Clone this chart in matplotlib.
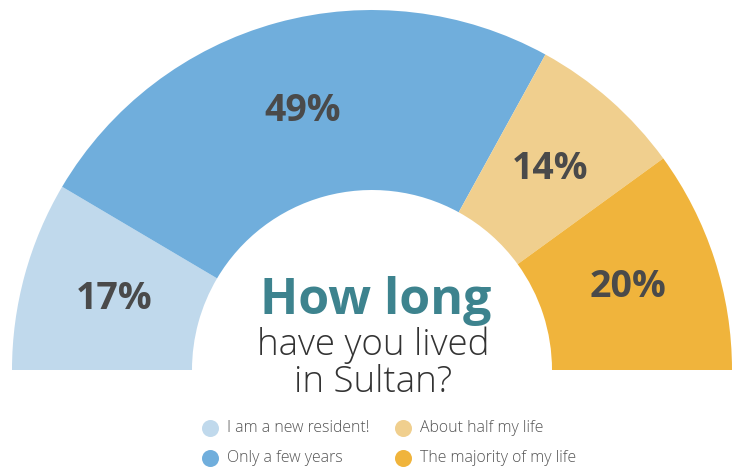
import matplotlib
matplotlib.use("Agg")
import matplotlib.pyplot as plt
import numpy as np

categories = ["I am a new resident!", "Only a few years", "About half my life", "The majority of my life"]
values = [17, 49, 14, 20]
colors = ["#c0d9ec", "#70aedc", "#f0cf8e", "#f0b43c"]
pct_labels = ["17%", "49%", "14%", "20%"]

W, H = 732, 470
fig = plt.figure(figsize=(W / 100, H / 100), dpi=100)
ax = fig.add_axes([0, 0, 1, 1])

cx, cy = 372, 100
R, ring = 360, 180

wedges, _ = ax.pie(values + [sum(values)], colors=colors + ["none"], startangle=180,
                   counterclock=False, radius=R, center=(cx, cy),
                   wedgeprops=dict(width=ring, linewidth=0))
wedges[-1].set_visible(False)

for w, lab in zip(wedges[:-1], pct_labels):
    ang = np.deg2rad((w.theta1 + w.theta2) / 2)
    r = R * 0.745
    ax.text(cx + r * np.cos(ang) + 1, cy + r * np.sin(ang), lab, ha="center", va="center",
            fontsize=27, fontweight="bold", color="#4a4a4a", family="Open Sans")

ax.text(cx + 4, 156, "How long", ha="center", va="baseline", fontsize=36, fontweight="bold",
        color="#3d838e", family="Open Sans")
ax.text(cx + 1, 115, "have you lived", ha="center", va="baseline", fontsize=26.5, fontweight="light",
        color="#333333", family="Open Sans")
ax.text(cx + 1, 78, "in Sultan?", ha="center", va="baseline", fontsize=26.5, fontweight="light",
        color="#333333", family="Open Sans")

# legend
pos = [(210, 42), (210, 12), (403, 42), (403, 12)]
for (x, y), c, lab in zip(pos, colors, categories):
    ax.scatter([x], [y], s=150, color=c, linewidths=0)
    ax.text(x + 17, y, lab, ha="left", va="center", fontsize=11.4, fontweight="light",
            color="#555555", family="Open Sans")

ax.set_xlim(0, W)
ax.set_ylim(0, H)
ax.set_aspect("auto")
ax.axis("off")
fig.savefig("out.png", dpi=100, facecolor="white")
